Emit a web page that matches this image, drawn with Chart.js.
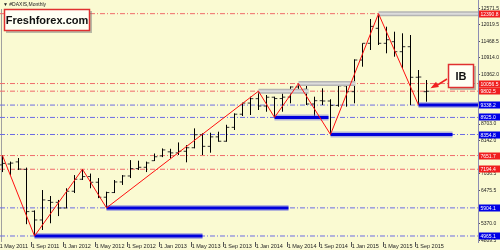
<!DOCTYPE html>
<html><head><meta charset="utf-8">
<script src="https://cdn.jsdelivr.net/npm/chart.js@4"></script>
<style>html,body{margin:0;padding:0;background:#FAFAD2;}#wrap{position:relative;width:500px;height:250px;}canvas{display:block}</style>
</head><body><div id="wrap"><canvas id="c" width="500" height="250"></canvas></div>
<script>
// ---------- DATA ----------
const xTickLabels = ["1 May 2011","1 Sep 2011","1 Jan 2012","1 May 2012","1 Sep 2012","1 Jan 2013","1 May 2013","1 Sep 2013","1 Jan 2014","1 May 2014","1 Sep 2014","1 Jan 2015","1 May 2015","1 Sep 2015"];
// monthly bars, index 0 = May 2011 ... 53 = Oct 2015
const opens  = [7340,7370,7440,7190,5790,5500,6150,6090,5900,6460,6860,6950,6760,6260,6416,6770,6970,7216,7260,7480,7640,7776,7741,7795,7913,8348,7959,8276,8130,8594,9033,9405,9552,9306,9600,9556,9603,9943,9865,9374,9484,9474,9326,9980,9785,10843,11401,11902,11401,11455,11121,11288,10266,9785];
const highs  = [7651.7,7450,7570,7250,5820,6500,6300,6170,6560,7000,7194.4,7050,6900,6445,6835,7000,7500,7480,7450,7720,7890,7878,8090,8000,8560,8395,8415,8449,8680,9063,9417,9618,9802.5,9674,9618,9730,9960,10056.5,10042,9618,9897,9531,10008,10008,10866,11401,12213,12390.8,11956,11789,11735,11678,10509,10175];
const lows   = [7100,7000,7170,5360,4965.1,5165,5390,5630,5890,6400,6835,6560,6230,5904.1,6400,6670,6900,7170,7100,7470,7600,7560,7670,7426,7894,7670,7747,8115,8115,8505,8973,9006,9173,9116,8925,9116,9397,9785,9340,8929,9340,8354.8,9283,9283,9397,10620,11177,11344,11067,10954,10566,9338.2,9338.2,9450];
const closes = [7390,7400,7200,5780,5500,6170,6090,5900,6460,6860,6950,6760,6260,6416,6770,6970,7216,7260,7405,7612,7840,7741,7795,7913,8348,7959,8276,8130,8594,9033,9405,9552,9306,9600,9556,9603,9943,9833,9374,9484,9474,9326,9980,9785,10843,11401,11966,11401,11521,11121,11288,10266,10275,9800];
const yTickValues = [12571.5,12019.5,11468.5,10914.0,10362.0,8703.0,8142.0,7036.5,6475.5,5370.0,4809.5];
const redLevels  = [12390.8,10056.5,9802.5,7651.7,7194.4];
const blueLevels = [9338.2,8925.0,8354.8,5904.1,4965.1];
const zigzagIdx = [0,4,10,13,32,34,37,41,47,52];
const zigzagVal = [7651.7,4965.1,7194.4,5904.1,9802.5,8925.0,10056.5,8354.8,12390.8,9338.2];
const supportStart = [4,13,34,41,52];
const supportEnd   = [25,35.75,40.75,56.25,59.5];
const supportVal   = [4965.1,5904.1,8925.0,8354.8,9338.2];
const resistStart = [32,37,47];
const resistEnd   = [38.25,44.1,59.5];
const resistVal   = [9802.5,10056.5,12390.8];

// ---------- SCALE RANGE ----------
const xMin = -0.3125, xMax = 59.4375;
const yMax = 12847.4, yMin = 4764.6;
const FONT = 'Liberation Sans';

// ---------- DATASETS ----------
const datasets = [];
const dashDot = [5,2,1,2];
redLevels.forEach(v => datasets.push({type:'line', data:[{x:xMin,y:v},{x:xMax,y:v}], borderColor:'#F06A6A', borderWidth:1, borderDash:dashDot, pointRadius:0, order:9}));
blueLevels.forEach(v => datasets.push({type:'line', data:[{x:xMin,y:v},{x:xMax,y:v}], borderColor:'#6C6CE4', borderWidth:1, borderDash:dashDot, pointRadius:0, order:9}));

const vert=[], oT=[], cT=[];
for (let i=0;i<opens.length;i++){
  vert.push({x:i,y:lows[i]},{x:i,y:highs[i]},{x:i,y:null});
  oT.push({x:i-0.35,y:opens[i]},{x:i,y:opens[i]},{x:i,y:null});
  cT.push({x:i,y:closes[i]},{x:i+0.35,y:closes[i]},{x:i,y:null});
}
datasets.push({type:'line', data:vert, borderColor:'#000', borderWidth:1, pointRadius:0, spanGaps:false, order:6});
datasets.push({type:'line', data:oT, borderColor:'#333', borderWidth:1, pointRadius:0, spanGaps:false, order:6});
datasets.push({type:'line', data:cT, borderColor:'#333', borderWidth:1, pointRadius:0, spanGaps:false, order:6});

supportVal.forEach((v,k)=>{
  const d=[{x:supportStart[k],y:v},{x:supportEnd[k],y:v}];
  datasets.push({type:'line', data:d, borderColor:'rgba(120,120,220,0.55)', borderWidth:6, pointRadius:0, order:4, borderCapStyle:'butt'});
  datasets.push({type:'line', data:d, borderColor:'#0000DC', borderWidth:3, pointRadius:0, order:3, borderCapStyle:'butt'});
});
resistVal.forEach((v,k)=>{
  const d=[{x:resistStart[k],y:v},{x:resistEnd[k],y:v}];
  datasets.push({type:'line', data:d, borderColor:'#B4B4B4', borderWidth:5, pointRadius:0, order:4, borderCapStyle:'butt'});
  datasets.push({type:'line', data:d, borderColor:'#DCDCDC', borderWidth:2, pointRadius:0, order:3, borderCapStyle:'butt'});
});
datasets.push({type:'line', data:zigzagIdx.map((x,k)=>({x, y:zigzagVal[k]})), borderColor:'#FF1010', borderWidth:1, pointRadius:0, order:1});

// ---------- PLUGINS ----------
const bgPlugin = {
  id:'bg',
  beforeDraw(chart){
    const c=chart.ctx; c.save(); c.fillStyle='#FAFAD2'; c.fillRect(0,0,chart.width,chart.height);
    c.strokeStyle='#A0A0A0'; c.lineWidth=1; c.beginPath(); c.moveTo(1.5,9); c.lineTo(1.5,chart.chartArea.bottom); c.stroke();
    c.restore();
  },
  afterDraw(chart){
    const c=chart.ctx, ys=chart.scales.y, xs=chart.scales.x;
    c.save();
    // level labels on axis
    const lab=(v,bg)=>{
      const y=Math.round(ys.getPixelForValue(v));
      c.fillStyle=bg; c.fillRect(479,y-3.5,21,7);
      c.fillStyle='#FFFFFF'; c.font='5px '+FONT; c.textBaseline='middle'; c.textAlign='left';
      c.fillText(v.toFixed(1),480.5,y+0.3);
    };
    redLevels.forEach(v=>lab(v,'#F01E1E'));
    blueLevels.forEach(v=>lab(v,'#0000E6'));
    // title
    c.fillStyle='#202020'; c.font='5px '+FONT; c.textBaseline='middle'; c.textAlign='left';
    c.fillText('\u25BC #DAXIS,Monthly',3,5);
    // Freshforex box
    c.fillStyle='rgba(120,120,120,0.5)'; c.fillRect(6,11,86,22);
    c.fillStyle='#FFFFF4'; c.fillRect(4,9,86,22);
    c.strokeStyle='#E03030'; c.lineWidth=1.5; c.strokeRect(4.5,9.5,85,21);
    c.fillStyle='#111'; c.font='bold 11px '+FONT; c.textAlign='center';
    c.fillText('Freshforex.com',47,20.5);
    // IB box + arrow
    const bx=448, by=64, bw=26, bh=24;
    c.fillStyle='rgba(120,120,120,0.5)'; c.fillRect(bx+2,by+2,bw,bh);
    c.fillStyle='#FFFFF4'; c.fillRect(bx,by,bw,bh);
    c.strokeStyle='#E03030'; c.lineWidth=1.5; c.strokeRect(bx+0.5,by+0.5,bw-1,bh-1);
    c.fillStyle='#111'; c.font='bold 11px '+FONT; c.fillText('IB',bx+bw/2,by+bh/2+0.5);
    const tx=xs.getPixelForValue(53.5), ty=ys.getPixelForValue(9900);
    const sx=bx-1, sy=by+15;
    c.strokeStyle='#F02020'; c.lineWidth=1.5; c.beginPath(); c.moveTo(sx,sy); c.lineTo(tx+5,ty-2); c.stroke();
    const ang=Math.atan2(ty-sy,tx-sx);
    c.fillStyle='#F02020'; c.beginPath(); c.moveTo(tx,ty);
    c.lineTo(tx-8*Math.cos(ang)+3*Math.sin(ang), ty-8*Math.sin(ang)-3*Math.cos(ang));
    c.lineTo(tx-8*Math.cos(ang)-3*Math.sin(ang), ty-8*Math.sin(ang)+3*Math.cos(ang));
    c.closePath(); c.fill();
    c.restore();
  }
};

new Chart(document.getElementById('c'), {
  type:'line',
  data:{datasets},
  options:{
    responsive:false, animation:false, devicePixelRatio:1,
    layout:{padding:0},
    plugins:{legend:{display:false}, tooltip:{enabled:false}},
    elements:{line:{tension:0}},
    scales:{
      x:{type:'linear', min:xMin, max:xMax, position:'bottom',
         afterFit(s){s.height=8; s.paddingLeft=0; s.paddingRight=0;},
         afterBuildTicks(s){s.ticks=xTickLabels.map((t,k)=>({value:k*4-0.35}));},
         ticks:{autoSkip:false, maxRotation:0, minRotation:0, align:'start', padding:-4, color:'#222', font:{family:FONT,size:5.5},
                callback:(v)=>xTickLabels[Math.round((v+0.35)/4)]},
         grid:{drawOnChartArea:false, drawTicks:true, tickLength:5, color:'#555'},
         border:{display:false}},
      y:{type:'linear', position:'right', min:yMin, max:yMax,
         afterFit(s){s.width=22; s.paddingTop=0; s.paddingBottom=0;},
         afterBuildTicks(s){s.ticks=yTickValues.map(v=>({value:v}));},
         ticks:{autoSkip:false, padding:1, color:'#222', font:{family:FONT,size:5}, callback:(v)=>Number(v).toFixed(1)},
         grid:{drawOnChartArea:false, drawTicks:true, tickLength:2, color:'#555'},
         border:{display:true, color:'#8C8CB4', width:1}}
    }
  },
  plugins:[bgPlugin]
});
</script></body></html>
